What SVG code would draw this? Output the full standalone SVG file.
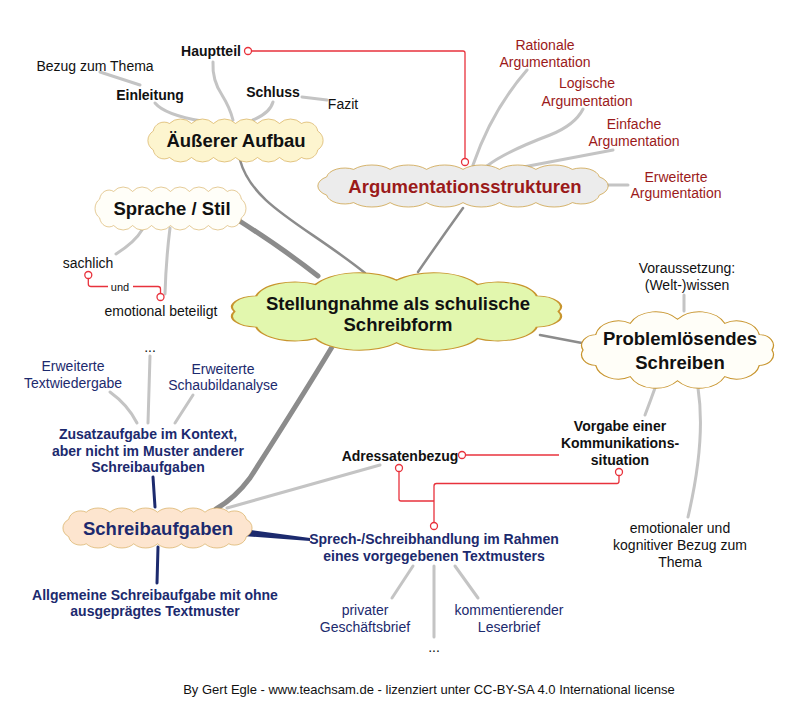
<svg xmlns="http://www.w3.org/2000/svg" width="800" height="704" viewBox="0 0 800 704">
<defs>
<style>
text{font-family:"Liberation Sans",Arial,Helvetica,sans-serif;fill:#111}
.t{font-size:14px;text-anchor:middle}
.b{font-weight:bold}
.c{font-size:18.5px;font-weight:bold;text-anchor:middle}
.red{fill:#9b1a1a}
.navy{fill:#1c2a6e}
.cloud{stroke:#c8952e;stroke-width:1.2;vector-effect:non-scaling-stroke}
.lg{fill:none;stroke:#c4c4c4;stroke-width:3;stroke-linecap:round}
.dg{fill:none;stroke:#8c8c8c;stroke-width:2.5;stroke-linecap:round}
.thick{fill:none;stroke:#8c8c8c;stroke-width:5;stroke-linecap:round}
.nv{fill:none;stroke:#1c2a6e;stroke-width:3;stroke-linecap:round}
.rl{fill:none;stroke:#e8323c;stroke-width:1.3}
.rc{fill:#fff;stroke:#e8323c;stroke-width:1.3}
</style>
<path id="cloudA" d="M90,0 A14,14 0 0 1 77.9,20 A22,22 0 0 1 45,34.6 A27,27 0 0 1 0,40 A27,27 0 0 1 -45,34.6 A22,22 0 0 1 -77.9,20 A14,14 0 0 1 -90,0 A14,14 0 0 1 -77.9,-20 A22,22 0 0 1 -45,-34.6 A27,27 0 0 1 0,-40 A27,27 0 0 1 45,-34.6 A22,22 0 0 1 77.9,-20 A14,14 0 0 1 90,0 Z"/>
<path id="cloudB" d="M-150,-40 A35,35 0 0 1 -100,-40 A35,35 0 0 1 -50,-40 A35,35 0 0 1 0,-40 A35,35 0 0 1 50,-40 A35,35 0 0 1 100,-40 A35,35 0 0 1 150,-40 A25,25 0 0 1 187,-22 A26,26 0 0 1 187,22 A25,25 0 0 1 150,40 A35,35 0 0 1 100,40 A35,35 0 0 1 50,40 A35,35 0 0 1 0,40 A35,35 0 0 1 -50,40 A35,35 0 0 1 -100,40 A35,35 0 0 1 -150,40 A25,25 0 0 1 -187,22 A26,26 0 0 1 -187,-22 A25,25 0 0 1 -150,-40 Z"/>
</defs>
<rect width="800" height="704" fill="#fff"/>

<g id="connectors">
<path class="dg" d="M240,160 C252,205 305,225 365,273"/>
<path class="dg" d="M463,208 Q440,240 418,272"/>
<path class="thick" d="M238,220 Q285,250 318,276"/>
<path class="dg" d="M540,335 L582,343"/>
<path class="thick" d="M332,347 Q300,400 250,478 Q235,498 216,509"/>
<path class="lg" d="M100,72 L140,85"/>
<path class="lg" d="M155,103 Q165,115 202,121"/>
<path class="lg" d="M213,62 Q212,80 222,95 Q230,108 233,120"/>
<path class="lg" d="M273,102 Q270,113 253,120"/>
<path class="lg" d="M302,97 L327,100"/>
<path class="lg" d="M527,70 Q492,110 473,165"/>
<path class="lg" d="M583,109 Q575,125 550,135 Q505,152 487,166"/>
<path class="lg" d="M613,150 Q560,160 518,168"/>
<path class="lg" d="M608,185 L628,185"/>
<path class="lg" d="M116,254 Q135,242 142,230"/>
<path class="lg" d="M165,294 Q166,260 170,228"/>
<path class="lg" d="M684,295 L684,311"/>
<path class="lg" d="M655,388 Q650,402 645,415"/>
<path class="lg" d="M698,388 Q706,440 688,517"/>
<path class="lg" d="M227,508 L380,465"/>
<path class="nv" d="M153,477 L155,507"/>
<path class="nv" d="M158,547 L157,583"/>
<path fill="#1c2a6e" d="M243,529 L310,538 L310,541 L243,536 Z"/>
<path class="lg" d="M110,392 Q128,405 137,423"/>
<path class="lg" d="M150,356 L148,423"/>
<path class="lg" d="M193,395 L175,423"/>
<path class="lg" d="M413,566 L392,598"/>
<path class="lg" d="M434,566 L434,637"/>
<path class="lg" d="M455,566 L478,598"/>
<path class="rl" d="M251.5,51 L463,51 Q465,51 465,53 L465,158.5"/>
<circle class="rc" cx="248" cy="51" r="3.5"/>
<circle class="rc" cx="465" cy="162" r="3.5"/>
<path class="rl" d="M88.3,278.5 L88.3,284 Q88.3,286.5 91,286.5 L108,286.5 M133,286.5 L158,286.5 Q160.5,286.5 160.5,289 L160.5,293.5"/>
<circle class="rc" cx="88.3" cy="275" r="3.5"/>
<circle class="rc" cx="160.5" cy="297" r="3.5"/>
<path class="rl" d="M465.5,455 L559,455"/>
<circle class="rc" cx="462" cy="455" r="3.5"/>
<path class="rl" d="M399,471.5 L399,499 Q399,501 401,501 L434,501"/>
<circle class="rc" cx="399" cy="468" r="3.5"/>
<path class="rl" d="M434,522.5 L434,486 Q434,483.5 436.5,483.5 L617,483.5 Q619,483.5 619,481 L619,475.5"/>
<circle class="rc" cx="619" cy="472" r="3.5"/>
<circle class="rc" cx="434" cy="526" r="3.5"/>
</g>

<g id="aeusserer-aufbau">
<use href="#cloudB" class="cloud" fill="#fdf5cf" transform="translate(235.5,140.5) scale(0.44,0.426)"/>
<text class="c" x="236" y="146.5">Äußerer Aufbau</text>
</g>
<g id="einleitung"><text class="t b" x="150" y="100">Einleitung</text></g>
<g id="bezug-thema"><text class="t" x="95" y="71">Bezug zum Thema</text></g>
<g id="hauptteil"><text class="t b" x="211" y="56">Hauptteil</text></g>
<g id="schluss"><text class="t b" x="273" y="97">Schluss</text></g>
<g id="fazit"><text class="t" x="343" y="109">Fazit</text></g>

<g id="argumentationsstrukturen">
<use href="#cloudB" class="cloud" fill="#ececec" transform="translate(463,186) scale(0.729,0.416)"/>
<text class="c red" x="465" y="193">Argumentationsstrukturen</text>
</g>
<g id="rationale"><text class="t red" x="545" y="50">Rationale</text><text class="t red" x="545" y="67">Argumentation</text></g>
<g id="logische"><text class="t red" x="587" y="88">Logische</text><text class="t red" x="587" y="106">Argumentation</text></g>
<g id="einfache"><text class="t red" x="634" y="129">Einfache</text><text class="t red" x="634" y="146">Argumentation</text></g>
<g id="erweiterte-arg"><text class="t red" x="676" y="182">Erweiterte</text><text class="t red" x="676" y="198">Argumentation</text></g>

<g id="sprache-stil">
<use href="#cloudB" class="cloud" fill="#fffef8" transform="translate(170.5,208.5) scale(0.379,0.426)"/>
<text class="c" x="172" y="215">Sprache / Stil</text>
</g>
<g id="sachlich"><text class="t" x="88" y="268">sachlich</text></g>
<g id="und"><text x="120" y="291" style="font-size:11px;text-anchor:middle">und</text></g>
<g id="emotional"><text class="t" x="161" y="316">emotional beteiligt</text></g>

<g id="stellungnahme">
<use href="#cloudA" class="cloud" fill="#e2f7ae" transform="translate(396.5,311.5) scale(1.8,0.78)"/>
<text class="c" x="398" y="309.5">Stellungnahme als schulische</text>
<text class="c" x="398" y="330.5">Schreibform</text>
</g>

<g id="problemloesendes">
<use href="#cloudA" class="cloud" fill="#fffef8" transform="translate(677.5,350) scale(1.05,0.77)"/>
<text class="c" x="680" y="344.5">Problemlösendes</text>
<text class="c" x="680" y="368.5">Schreiben</text>
</g>
<g id="voraussetzung"><text class="t" x="687" y="273">Voraussetzung:</text><text class="t" x="687" y="290">(Welt-)wissen</text></g>
<g id="vorgabe"><text class="t b" x="620" y="431">Vorgabe einer</text><text class="t b" x="620" y="448">Kommunikations-</text><text class="t b" x="620" y="465">situation</text></g>
<g id="emotionaler-bezug"><text class="t" x="680" y="533">emotionaler und</text><text class="t" x="680" y="550">kognitiver Bezug zum</text><text class="t" x="680" y="567">Thema</text></g>

<g id="schreibaufgaben">
<use href="#cloudB" class="cloud" fill="#fde5cf" transform="translate(157.5,528) scale(0.475,0.396)"/>
<text class="c navy" x="158" y="534.5">Schreibaufgaben</text>
</g>
<g id="zusatzaufgabe"><text class="t b navy" x="148" y="439">Zusatzaufgabe im Kontext,</text><text class="t b navy" x="148" y="456">aber nicht im Muster anderer</text><text class="t b navy" x="148" y="472">Schreibaufgaben</text></g>
<g id="dots1"><text class="t" x="150" y="352">...</text></g>
<g id="textwiedergabe"><text class="t navy" x="73" y="371">Erweiterte</text><text class="t navy" x="73" y="388">Textwiedergabe</text></g>
<g id="schaubildanalyse"><text class="t navy" x="223" y="374">Erweiterte</text><text class="t navy" x="223" y="390">Schaubildanalyse</text></g>
<g id="allgemeine"><text class="t b navy" x="155" y="600">Allgemeine Schreibaufgabe mit ohne</text><text class="t b navy" x="155" y="616">ausgeprägtes Textmuster</text></g>
<g id="adressatenbezug"><text class="t b" x="400" y="461">Adressatenbezug</text></g>
<g id="sprechhandlung"><text class="t b navy" x="434" y="544">Sprech-/Schreibhandlung im Rahmen</text><text class="t b navy" x="434" y="561">eines vorgegebenen Textmusters</text></g>
<g id="privater"><text class="t navy" x="365" y="615">privater</text><text class="t navy" x="365" y="632">Geschäftsbrief</text></g>
<g id="kommentierender"><text class="t navy" x="509" y="615">kommentierender</text><text class="t navy" x="509" y="632">Leserbrief</text></g>
<g id="dots2"><text class="t" x="434" y="652">...</text></g>

<g id="footer"><text x="429" y="694" style="font-size:13px;text-anchor:middle">By Gert Egle - www.teachsam.de -  lizenziert unter CC-BY-SA 4.0 International license</text></g>
</svg>
